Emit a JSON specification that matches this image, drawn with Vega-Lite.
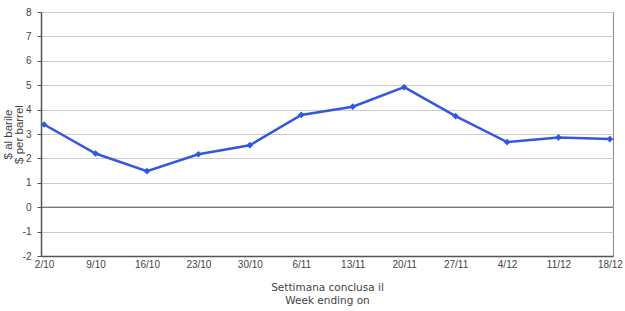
{
  "$schema": "https://vega.github.io/schema/vega-lite/v6.json",
  "autosize": "none",
  "width": 572,
  "height": 244,
  "padding": {"left": 41, "top": 12, "right": 12, "bottom": 55},
  "background": "white",
  "config": {
    "view": {"stroke": "#8a8a8a", "strokeWidth": 1},
    "font": "Liberation Sans"
  },
  "datasets": {
    "weeks": [
      {"week": "2/10", "value": 3.39},
      {"week": "9/10", "value": 2.2},
      {"week": "16/10", "value": 1.48},
      {"week": "23/10", "value": 2.17},
      {"week": "30/10", "value": 2.54},
      {"week": "6/11", "value": 3.78},
      {"week": "13/11", "value": 4.12},
      {"week": "20/11", "value": 4.92},
      {"week": "27/11", "value": 3.73},
      {"week": "4/12", "value": 2.67},
      {"week": "11/12", "value": 2.86},
      {"week": "18/12", "value": 2.79}
    ],
    "zero": [{"value": 0}]
  },
  "encoding": {
    "y": {
      "field": "value", "type": "quantitative",
      "scale": {"domain": [-2, 8], "nice": false},
      "axis": {
        "values": [-2, -1, 0, 1, 2, 3, 4, 5, 6, 7, 8],
        "labelExpr": "'' + datum.value",
        "labelOverlap": false,
        "title": ["$ al barile", "$ per barrel"],
        "titleFont": "Liberation Sans", "titleFontSize": 11.5, "titleFontWeight": "normal", "titleColor": "#444444",
        "titleLineHeight": 11, "titlePadding": -2,
        "labelFontSize": 10, "labelColor": "#444444", "labelPadding": 6,
        "tickSize": 4, "tickColor": "#555555",
        "domainColor": "#555555", "domainWidth": 1.5,
        "grid": true, "gridColor": "#cccccc", "gridWidth": 1.2
      }
    }
  },
  "layer": [
    {
      "data": {"name": "zero"},
      "mark": {"type": "rule", "color": "#555555", "strokeWidth": 1}
    },
    {
      "data": {"name": "weeks"},
      "mark": {"type": "line", "color": "#3358e0", "strokeWidth": 2.5, "point": {"shape": "diamond", "size": 45, "filled": true, "color": "#3358e0"}},
      "encoding": {
        "x": {
          "field": "week", "type": "ordinal", "sort": null,
          "scale": {"type": "point", "padding": 0.06},
          "axis": {
            "title": ["Settimana conclusa il", "Week ending on"],
            "titleFont": "DejaVu Sans", "titleFontSize": 10.5, "titleFontWeight": "normal", "titleColor": "#444444",
            "titlePadding": 13, "titleLineHeight": 13.5,
            "labelAngle": 0, "labelFontSize": 10, "labelColor": "#444444", "labelPadding": 3,
            "ticks": false, "domainColor": "#555555", "domainWidth": 1.5, "grid": false
          }
        }
      }
    }
  ]
}
